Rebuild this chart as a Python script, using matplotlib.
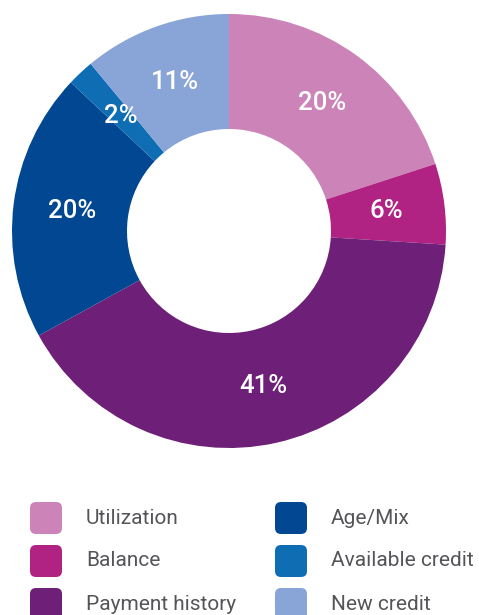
import matplotlib
matplotlib.use("Agg")
import matplotlib.pyplot as plt
from matplotlib.patches import FancyBboxPatch

categories = ["Utilization", "Balance", "Payment history", "Age/Mix", "Available credit", "New credit"]
values = [20, 6, 41, 20, 2, 11]
colors = ["#CC84B8", "#B12383", "#6E1F77", "#024792", "#0F6DB4", "#89A4D6"]
labels = [f"{v}%" for v in values]

W, H = 479, 615
fig = plt.figure(figsize=(W / 100, H / 100), dpi=100)
ax = fig.add_axes([0, 0, 1, 1])
ax.set_xlim(0, W)
ax.set_ylim(0, H)
ax.set_aspect("equal")
ax.axis("off")

cx, cy, R, r_in = 229, H - 231, 217, 102
wedges, texts = ax.pie(values, colors=colors, startangle=90, counterclock=False,
                       center=(cx, cy), radius=R, labels=labels, labeldistance=0.73,
                       wedgeprops=dict(width=R - r_in, edgecolor="none"),
                       textprops=dict(color="white", fontsize=18.5, fontfamily="Roboto",
                                      fontweight="medium", ha="center", va="center"))
ax.set_xlim(0, W)
ax.set_ylim(0, H)

# legend
col_x = [30, 275]
row_y = [518, 561, 604]
sq = 32
for i, (cat, col) in enumerate(zip(categories, colors)):
    c = i // 3
    rr = i % 3
    x0 = col_x[c]
    yc = H - row_y[rr]
    box = FancyBboxPatch((x0 + 6, yc - sq / 2 + 6), sq - 12, sq - 12,
                         boxstyle="round,pad=6", facecolor=col, edgecolor="none",
                         clip_on=False)
    ax.add_patch(box)
    ax.text(x0 + 56, yc, cat, fontsize=15, fontfamily="Roboto", color="#555559",
            ha="left", va="center")

fig.savefig("out.png", dpi=100)
